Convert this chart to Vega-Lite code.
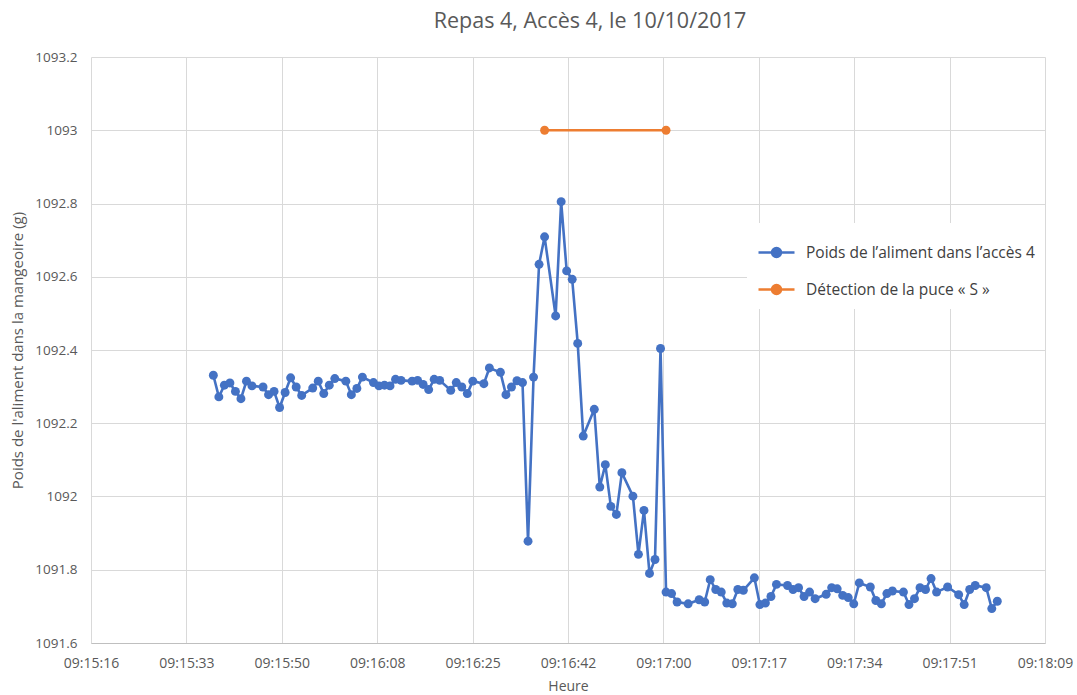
{
  "$schema": "https://vega.github.io/schema/vega-lite/v6.json",
  "width": 954,
  "height": 586,
  "autosize": "none",
  "padding": {"left": 91, "top": 57, "right": 32, "bottom": 52},
  "background": "white",
  "title": {"text": "Repas 4, Accès 4, le 10/10/2017", "fontSize": 21.5, "font": "Open Sans", "fontWeight": "normal", "color": "#595959", "offset": 18, "dx": 22, "anchor": "middle"},
  "data": {
    "format": {"parse": {"heure": "date:'%H:%M:%S'"}},
    "values": [
      {"heure": "09:15:38", "poids": 1092.331, "serie": "Poids de l’aliment dans l’accès 4"},
      {"heure": "09:15:39", "poids": 1092.272, "serie": "Poids de l’aliment dans l’accès 4"},
      {"heure": "09:15:40", "poids": 1092.304, "serie": "Poids de l’aliment dans l’accès 4"},
      {"heure": "09:15:41", "poids": 1092.310, "serie": "Poids de l’aliment dans l’accès 4"},
      {"heure": "09:15:42", "poids": 1092.287, "serie": "Poids de l’aliment dans l’accès 4"},
      {"heure": "09:15:43", "poids": 1092.267, "serie": "Poids de l’aliment dans l’accès 4"},
      {"heure": "09:15:44", "poids": 1092.315, "serie": "Poids de l’aliment dans l’accès 4"},
      {"heure": "09:15:45", "poids": 1092.302, "serie": "Poids de l’aliment dans l’accès 4"},
      {"heure": "09:15:47", "poids": 1092.299, "serie": "Poids de l’aliment dans l’accès 4"},
      {"heure": "09:15:48", "poids": 1092.278, "serie": "Poids de l’aliment dans l’accès 4"},
      {"heure": "09:15:49", "poids": 1092.287, "serie": "Poids de l’aliment dans l’accès 4"},
      {"heure": "09:15:50", "poids": 1092.243, "serie": "Poids de l’aliment dans l’accès 4"},
      {"heure": "09:15:51", "poids": 1092.284, "serie": "Poids de l’aliment dans l’accès 4"},
      {"heure": "09:15:52", "poids": 1092.324, "serie": "Poids de l’aliment dans l’accès 4"},
      {"heure": "09:15:53", "poids": 1092.299, "serie": "Poids de l’aliment dans l’accès 4"},
      {"heure": "09:15:54", "poids": 1092.276, "serie": "Poids de l’aliment dans l’accès 4"},
      {"heure": "09:15:56", "poids": 1092.296, "serie": "Poids de l’aliment dans l’accès 4"},
      {"heure": "09:15:57", "poids": 1092.315, "serie": "Poids de l’aliment dans l’accès 4"},
      {"heure": "09:15:58", "poids": 1092.281, "serie": "Poids de l’aliment dans l’accès 4"},
      {"heure": "09:15:59", "poids": 1092.304, "serie": "Poids de l’aliment dans l’accès 4"},
      {"heure": "09:16:00", "poids": 1092.322, "serie": "Poids de l’aliment dans l’accès 4"},
      {"heure": "09:16:02", "poids": 1092.315, "serie": "Poids de l’aliment dans l’accès 4"},
      {"heure": "09:16:03", "poids": 1092.278, "serie": "Poids de l’aliment dans l’accès 4"},
      {"heure": "09:16:04", "poids": 1092.295, "serie": "Poids de l’aliment dans l’accès 4"},
      {"heure": "09:16:05", "poids": 1092.326, "serie": "Poids de l’aliment dans l’accès 4"},
      {"heure": "09:16:07", "poids": 1092.311, "serie": "Poids de l’aliment dans l’accès 4"},
      {"heure": "09:16:08", "poids": 1092.302, "serie": "Poids de l’aliment dans l’accès 4"},
      {"heure": "09:16:09", "poids": 1092.304, "serie": "Poids de l’aliment dans l’accès 4"},
      {"heure": "09:16:10", "poids": 1092.302, "serie": "Poids de l’aliment dans l’accès 4"},
      {"heure": "09:16:11", "poids": 1092.320, "serie": "Poids de l’aliment dans l’accès 4"},
      {"heure": "09:16:12", "poids": 1092.317, "serie": "Poids de l’aliment dans l’accès 4"},
      {"heure": "09:16:14", "poids": 1092.315, "serie": "Poids de l’aliment dans l’accès 4"},
      {"heure": "09:16:15", "poids": 1092.317, "serie": "Poids de l’aliment dans l’accès 4"},
      {"heure": "09:16:16", "poids": 1092.306, "serie": "Poids de l’aliment dans l’accès 4"},
      {"heure": "09:16:17", "poids": 1092.292, "serie": "Poids de l’aliment dans l’accès 4"},
      {"heure": "09:16:18", "poids": 1092.320, "serie": "Poids de l’aliment dans l’accès 4"},
      {"heure": "09:16:19", "poids": 1092.317, "serie": "Poids de l’aliment dans l’accès 4"},
      {"heure": "09:16:21", "poids": 1092.290, "serie": "Poids de l’aliment dans l’accès 4"},
      {"heure": "09:16:22", "poids": 1092.311, "serie": "Poids de l’aliment dans l’accès 4"},
      {"heure": "09:16:23", "poids": 1092.299, "serie": "Poids de l’aliment dans l’accès 4"},
      {"heure": "09:16:24", "poids": 1092.281, "serie": "Poids de l’aliment dans l’accès 4"},
      {"heure": "09:16:25", "poids": 1092.315, "serie": "Poids de l’aliment dans l’accès 4"},
      {"heure": "09:16:27", "poids": 1092.308, "serie": "Poids de l’aliment dans l’accès 4"},
      {"heure": "09:16:28", "poids": 1092.351, "serie": "Poids de l’aliment dans l’accès 4"},
      {"heure": "09:16:30", "poids": 1092.339, "serie": "Poids de l’aliment dans l’accès 4"},
      {"heure": "09:16:31", "poids": 1092.278, "serie": "Poids de l’aliment dans l’accès 4"},
      {"heure": "09:16:32", "poids": 1092.299, "serie": "Poids de l’aliment dans l’accès 4"},
      {"heure": "09:16:33", "poids": 1092.316, "serie": "Poids de l’aliment dans l’accès 4"},
      {"heure": "09:16:34", "poids": 1092.311, "serie": "Poids de l’aliment dans l’accès 4"},
      {"heure": "09:16:35", "poids": 1091.878, "serie": "Poids de l’aliment dans l’accès 4"},
      {"heure": "09:16:36", "poids": 1092.326, "serie": "Poids de l’aliment dans l’accès 4"},
      {"heure": "09:16:37", "poids": 1092.634, "serie": "Poids de l’aliment dans l’accès 4"},
      {"heure": "09:16:38", "poids": 1092.709, "serie": "Poids de l’aliment dans l’accès 4"},
      {"heure": "09:16:40", "poids": 1092.493, "serie": "Poids de l’aliment dans l’accès 4"},
      {"heure": "09:16:41", "poids": 1092.805, "serie": "Poids de l’aliment dans l’accès 4"},
      {"heure": "09:16:42", "poids": 1092.616, "serie": "Poids de l’aliment dans l’accès 4"},
      {"heure": "09:16:43", "poids": 1092.593, "serie": "Poids de l’aliment dans l’accès 4"},
      {"heure": "09:16:44", "poids": 1092.418, "serie": "Poids de l’aliment dans l’accès 4"},
      {"heure": "09:16:45", "poids": 1092.165, "serie": "Poids de l’aliment dans l’accès 4"},
      {"heure": "09:16:47", "poids": 1092.238, "serie": "Poids de l’aliment dans l’accès 4"},
      {"heure": "09:16:48", "poids": 1092.026, "serie": "Poids de l’aliment dans l’accès 4"},
      {"heure": "09:16:49", "poids": 1092.087, "serie": "Poids de l’aliment dans l’accès 4"},
      {"heure": "09:16:50", "poids": 1091.973, "serie": "Poids de l’aliment dans l’accès 4"},
      {"heure": "09:16:51", "poids": 1091.951, "serie": "Poids de l’aliment dans l’accès 4"},
      {"heure": "09:16:52", "poids": 1092.065, "serie": "Poids de l’aliment dans l’accès 4"},
      {"heure": "09:16:54", "poids": 1092.001, "serie": "Poids de l’aliment dans l’accès 4"},
      {"heure": "09:16:55", "poids": 1091.842, "serie": "Poids de l’aliment dans l’accès 4"},
      {"heure": "09:16:56", "poids": 1091.962, "serie": "Poids de l’aliment dans l’accès 4"},
      {"heure": "09:16:57", "poids": 1091.790, "serie": "Poids de l’aliment dans l’accès 4"},
      {"heure": "09:16:58", "poids": 1091.828, "serie": "Poids de l’aliment dans l’accès 4"},
      {"heure": "09:16:59", "poids": 1092.404, "serie": "Poids de l’aliment dans l’accès 4"},
      {"heure": "09:17:00", "poids": 1091.739, "serie": "Poids de l’aliment dans l’accès 4"},
      {"heure": "09:17:01", "poids": 1091.735, "serie": "Poids de l’aliment dans l’accès 4"},
      {"heure": "09:17:02", "poids": 1091.712, "serie": "Poids de l’aliment dans l’accès 4"},
      {"heure": "09:17:04", "poids": 1091.707, "serie": "Poids de l’aliment dans l’accès 4"},
      {"heure": "09:17:06", "poids": 1091.718, "serie": "Poids de l’aliment dans l’accès 4"},
      {"heure": "09:17:07", "poids": 1091.712, "serie": "Poids de l’aliment dans l’accès 4"},
      {"heure": "09:17:08", "poids": 1091.773, "serie": "Poids de l’aliment dans l’accès 4"},
      {"heure": "09:17:09", "poids": 1091.746, "serie": "Poids de l’aliment dans l’accès 4"},
      {"heure": "09:17:10", "poids": 1091.739, "serie": "Poids de l’aliment dans l’accès 4"},
      {"heure": "09:17:11", "poids": 1091.709, "serie": "Poids de l’aliment dans l’accès 4"},
      {"heure": "09:17:12", "poids": 1091.707, "serie": "Poids de l’aliment dans l’accès 4"},
      {"heure": "09:17:13", "poids": 1091.746, "serie": "Poids de l’aliment dans l’accès 4"},
      {"heure": "09:17:14", "poids": 1091.744, "serie": "Poids de l’aliment dans l’accès 4"},
      {"heure": "09:17:16", "poids": 1091.778, "serie": "Poids de l’aliment dans l’accès 4"},
      {"heure": "09:17:17", "poids": 1091.705, "serie": "Poids de l’aliment dans l’accès 4"},
      {"heure": "09:17:18", "poids": 1091.709, "serie": "Poids de l’aliment dans l’accès 4"},
      {"heure": "09:17:19", "poids": 1091.727, "serie": "Poids de l’aliment dans l’accès 4"},
      {"heure": "09:17:20", "poids": 1091.760, "serie": "Poids de l’aliment dans l’accès 4"},
      {"heure": "09:17:22", "poids": 1091.757, "serie": "Poids de l’aliment dans l’accès 4"},
      {"heure": "09:17:23", "poids": 1091.746, "serie": "Poids de l’aliment dans l’accès 4"},
      {"heure": "09:17:24", "poids": 1091.751, "serie": "Poids de l’aliment dans l’accès 4"},
      {"heure": "09:17:25", "poids": 1091.727, "serie": "Poids de l’aliment dans l’accès 4"},
      {"heure": "09:17:26", "poids": 1091.739, "serie": "Poids de l’aliment dans l’accès 4"},
      {"heure": "09:17:27", "poids": 1091.721, "serie": "Poids de l’aliment dans l’accès 4"},
      {"heure": "09:17:29", "poids": 1091.733, "serie": "Poids de l’aliment dans l’accès 4"},
      {"heure": "09:17:30", "poids": 1091.751, "serie": "Poids de l’aliment dans l’accès 4"},
      {"heure": "09:17:31", "poids": 1091.748, "serie": "Poids de l’aliment dans l’accès 4"},
      {"heure": "09:17:32", "poids": 1091.730, "serie": "Poids de l’aliment dans l’accès 4"},
      {"heure": "09:17:33", "poids": 1091.724, "serie": "Poids de l’aliment dans l’accès 4"},
      {"heure": "09:17:34", "poids": 1091.707, "serie": "Poids de l’aliment dans l’accès 4"},
      {"heure": "09:17:35", "poids": 1091.764, "serie": "Poids de l’aliment dans l’accès 4"},
      {"heure": "09:17:37", "poids": 1091.753, "serie": "Poids de l’aliment dans l’accès 4"},
      {"heure": "09:17:38", "poids": 1091.716, "serie": "Poids de l’aliment dans l’accès 4"},
      {"heure": "09:17:39", "poids": 1091.707, "serie": "Poids de l’aliment dans l’accès 4"},
      {"heure": "09:17:40", "poids": 1091.735, "serie": "Poids de l’aliment dans l’accès 4"},
      {"heure": "09:17:41", "poids": 1091.742, "serie": "Poids de l’aliment dans l’accès 4"},
      {"heure": "09:17:43", "poids": 1091.739, "serie": "Poids de l’aliment dans l’accès 4"},
      {"heure": "09:17:44", "poids": 1091.705, "serie": "Poids de l’aliment dans l’accès 4"},
      {"heure": "09:17:45", "poids": 1091.721, "serie": "Poids de l’aliment dans l’accès 4"},
      {"heure": "09:17:46", "poids": 1091.751, "serie": "Poids de l’aliment dans l’accès 4"},
      {"heure": "09:17:47", "poids": 1091.746, "serie": "Poids de l’aliment dans l’accès 4"},
      {"heure": "09:17:48", "poids": 1091.776, "serie": "Poids de l’aliment dans l’accès 4"},
      {"heure": "09:17:49", "poids": 1091.739, "serie": "Poids de l’aliment dans l’accès 4"},
      {"heure": "09:17:51", "poids": 1091.753, "serie": "Poids de l’aliment dans l’accès 4"},
      {"heure": "09:17:53", "poids": 1091.732, "serie": "Poids de l’aliment dans l’accès 4"},
      {"heure": "09:17:54", "poids": 1091.705, "serie": "Poids de l’aliment dans l’accès 4"},
      {"heure": "09:17:55", "poids": 1091.746, "serie": "Poids de l’aliment dans l’accès 4"},
      {"heure": "09:17:56", "poids": 1091.757, "serie": "Poids de l’aliment dans l’accès 4"},
      {"heure": "09:17:58", "poids": 1091.751, "serie": "Poids de l’aliment dans l’accès 4"},
      {"heure": "09:17:59", "poids": 1091.694, "serie": "Poids de l’aliment dans l’accès 4"},
      {"heure": "09:18:00", "poids": 1091.714, "serie": "Poids de l’aliment dans l’accès 4"},
      {"heure": "09:16:38", "poids": 1093.0, "serie": "Détection de la puce « S »"},
      {"heure": "09:17:00", "poids": 1093.0, "serie": "Détection de la puce « S »"}
    ]
  },
  "encoding": {
    "x": {
      "field": "heure",
      "type": "temporal",
      "scale": {"domain": [
        {"year": 1900, "month": 1, "date": 1, "hours": 9, "minutes": 15, "seconds": 15, "milliseconds": 840},
        {"year": 1900, "month": 1, "date": 1, "hours": 9, "minutes": 18, "seconds": 8, "milliseconds": 640}
      ]},
      "axis": {
        "title": "Heure",
        "values": [
          {"year": 1900, "month": 1, "date": 1, "hours": 9, "minutes": 15, "seconds": 15, "milliseconds": 840},
          {"year": 1900, "month": 1, "date": 1, "hours": 9, "minutes": 15, "seconds": 33, "milliseconds": 120},
          {"year": 1900, "month": 1, "date": 1, "hours": 9, "minutes": 15, "seconds": 50, "milliseconds": 400},
          {"year": 1900, "month": 1, "date": 1, "hours": 9, "minutes": 16, "seconds": 7, "milliseconds": 680},
          {"year": 1900, "month": 1, "date": 1, "hours": 9, "minutes": 16, "seconds": 24, "milliseconds": 960},
          {"year": 1900, "month": 1, "date": 1, "hours": 9, "minutes": 16, "seconds": 42, "milliseconds": 240},
          {"year": 1900, "month": 1, "date": 1, "hours": 9, "minutes": 16, "seconds": 59, "milliseconds": 520},
          {"year": 1900, "month": 1, "date": 1, "hours": 9, "minutes": 17, "seconds": 16, "milliseconds": 800},
          {"year": 1900, "month": 1, "date": 1, "hours": 9, "minutes": 17, "seconds": 34, "milliseconds": 80},
          {"year": 1900, "month": 1, "date": 1, "hours": 9, "minutes": 17, "seconds": 51, "milliseconds": 360},
          {"year": 1900, "month": 1, "date": 1, "hours": 9, "minutes": 18, "seconds": 8, "milliseconds": 640}
        ],
        "labelExpr": "timeFormat(time(datum.value) + 500, '%H:%M:%S')",
        "labelFlush": false,
        "labelOverlap": false,
        "labelBound": false,
        "ticks": false,
        "tickSize": 0,
        "labelPadding": 13,
        "domainColor": "#BFBFBF",
        "domainWidth": 1,
        "titlePadding": 9,
        "titleFontSize": 14,
        "labelFontSize": 14
      }
    },
    "y": {
      "field": "poids",
      "type": "quantitative",
      "scale": {"domain": [1091.6, 1093.2], "nice": false, "zero": false},
      "axis": {
        "title": "Poids de l'aliment dans la mangeoire (g)",
        "values": [1091.6, 1091.8, 1092, 1092.2, 1092.4, 1092.6, 1092.8, 1093, 1093.2],
        "format": ".6~r",
        "domain": false,
        "ticks": false,
        "tickSize": 0,
        "labelPadding": 14,
        "titlePadding": 9,
        "titleFontSize": 15,
        "labelFontSize": 13.5
      }
    },
    "color": {
      "field": "serie",
      "type": "nominal",
      "scale": {"domain": ["Poids de l’aliment dans l’accès 4", "Détection de la puce « S »"], "range": ["#4472C4", "#ED7D31"]},
      "legend": {
        "title": null,
        "orient": "none",
        "legendX": 656,
        "legendY": 166,
        "padding": 10,
        "fillColor": "white",
        "symbolType": "M-1,0L1,0M-0.25,0A0.25,0.25,0,1,1,0.25,0A0.25,0.25,0,1,1,-0.25,0Z",
        "symbolSize": 1296,
        "symbolStrokeWidth": 2.5,
        "labelFontSize": 15.5,
        "labelColor": "#404040",
        "labelOffset": 10,
        "labelLimit": 400,
        "rowPadding": 8,
        "encode": {
          "symbols": {
            "update": {
              "fill": {"scale": "color", "field": "value"},
              "stroke": {"scale": "color", "field": "value"},
              "strokeWidth": {"value": 2.5},
              "opacity": {"value": 1}
            }
          }
        }
      }
    }
  },
  "layer": [
    {"mark": {"type": "line", "strokeWidth": 2.6}},
    {"mark": {"type": "circle", "size": 80, "opacity": 1}}
  ],
  "config": {
    "font": "Open Sans",
    "view": {"stroke": null},
    "axis": {
      "labelFont": "Open Sans",
      "titleFont": "Open Sans",
      "labelColor": "#595959",
      "titleColor": "#595959",
      "titleFontWeight": "normal",
      "gridColor": "#D9D9D9",
      "gridWidth": 1
    },
    "legend": {"labelFont": "Open Sans"}
  }
}
